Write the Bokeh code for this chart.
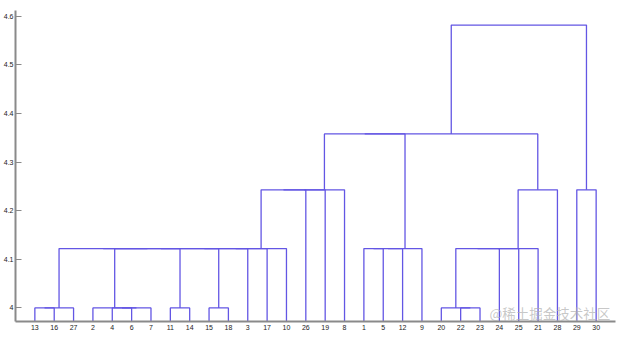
from bokeh.plotting import figure
from bokeh.models import Range1d, FixedTicker, Label
from bokeh.embed import file_html
from bokeh.resources import INLINE

# Leaf order along the x axis (observation numbers)
leaf_order = [13, 16, 27, 2, 4, 6, 7, 11, 14, 15, 18, 3, 17, 10, 26,
              19, 8, 1, 5, 12, 9, 20, 22, 23, 24, 25, 21, 28, 29, 30]

# Linkage rows (MATLAB style): child1, child2, merge height; row k creates cluster 30+k
link_a = [13, 31, 4, 33, 2, 11, 15, 22, 20, 35, 32, 41, 42, 43, 44,
          1, 46, 47, 39, 49, 50, 45, 52, 53, 51, 29, 54, 57, 58]
link_b = [16, 27, 6, 7, 34, 14, 18, 23, 38, 36, 40, 37, 3, 17, 10,
          5, 12, 9, 24, 25, 21, 26, 19, 8, 28, 30, 48, 55, 56]
link_h = [4.0, 4.0, 4.0, 4.0, 4.0, 4.0, 4.0, 4.0, 4.0,
          4.122, 4.122, 4.122, 4.122, 4.122, 4.122,
          4.122, 4.122, 4.122, 4.122, 4.122, 4.122,
          4.243, 4.243, 4.243, 4.243, 4.243,
          4.358, 4.358, 4.582]

y_ticks = [4.0, 4.1, 4.2, 4.3, 4.4, 4.5, 4.6]
y_tick_labels = ["4", "4.1", "4.2", "4.3", "4.4", "4.5", "4.6"]

n = len(leaf_order)
node_x = {leaf: i + 1 for i, leaf in enumerate(leaf_order)}
node_h = {leaf: 0.0 for leaf in leaf_order}

xs, ys = [], []
for k, (a, b, h) in enumerate(zip(link_a, link_b, link_h)):
    xa, xb = node_x[a], node_x[b]
    xs.append([xa, xa, xb, xb])
    ys.append([node_h[a], h, h, node_h[b]])
    cid = n + k + 1
    node_x[cid] = (xa + xb) / 2.0
    node_h[cid] = h

p = figure(width=618, height=338, output_backend="svg", toolbar_location=None,
           x_range=Range1d(0, n + 1), y_range=Range1d(3.972, 4.612),
           min_border_left=15, min_border_right=3, min_border_top=10,
           min_border_bottom=17)
p.outline_line_color = None
p.xgrid.visible = False
p.ygrid.visible = False
p.background_fill_color = "white"
p.border_fill_color = "white"

p.multi_line(xs=xs, ys=ys, line_color="#6356e4", line_width=1.3)

axis_color = "#8a8a8a"
for ax in (p.xaxis[0], p.yaxis[0]):
    ax.axis_line_color = axis_color
    ax.axis_line_width = 2
    ax.major_tick_line_color = axis_color
    ax.minor_tick_line_color = None
    ax.major_label_text_font = "Liberation Sans"
    ax.major_label_text_font_size = "7px"
    ax.major_label_text_color = "#222222"
    ax.major_label_standoff = 2
    ax.major_tick_out = 0

p.yaxis[0].ticker = FixedTicker(ticks=y_ticks)
p.yaxis[0].major_label_overrides = {t: s for t, s in zip(y_ticks, y_tick_labels)}
p.yaxis[0].major_tick_in = 6

x_ticks = list(range(1, n + 1))
p.xaxis[0].ticker = FixedTicker(ticks=x_ticks)
p.xaxis[0].major_label_overrides = {t: str(l) for t, l in zip(x_ticks, leaf_order)}
p.xaxis[0].major_tick_in = 0
p.xaxis[0].major_label_standoff = 3

wm = Label(x=474, y=9, x_units="screen", y_units="screen",
           text="@稀土掘金技术社区", text_font="Noto Sans CJK SC",
           text_font_size="13.5px", text_color="#b0b0b0", text_alpha=0.7,
           text_baseline="middle")
p.add_layout(wm)

open("out.html", "w").write(file_html(p, INLINE))
